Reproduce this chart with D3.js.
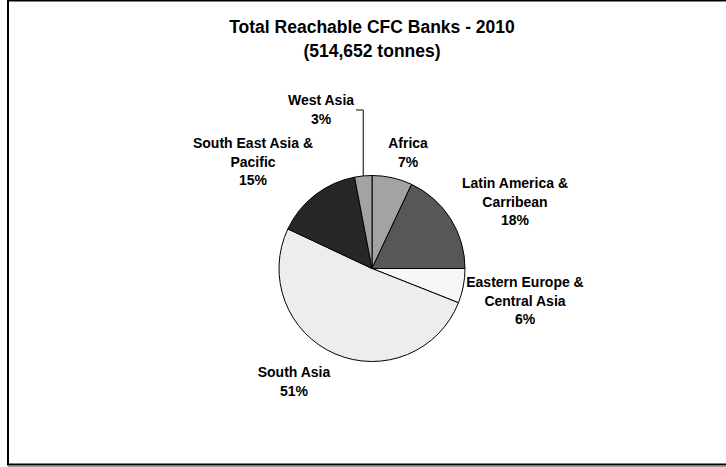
<!DOCTYPE html>
<html>
<head>
<meta charset="utf-8">
<script src="https://cdn.jsdelivr.net/npm/d3@7"></script>
<style>
  html, body { margin: 0; padding: 0; background: #fff; }
  svg { display: block; }
  text { font-family: "Liberation Sans", Arial, sans-serif; font-weight: bold; fill: #000; }
</style>
</head>
<body>
<svg id="chart" width="726" height="467"></svg>
<script>
// Regions and their share of reachable CFC banks (%), clockwise from 12 o'clock
const regions = ["Africa", "Latin America & Carribean", "Eastern Europe & Central Asia",
                 "South Asia", "South East Asia & Pacific", "West Asia"];
const shares = [7, 18, 6, 51, 15, 3];
const fills = ["#a3a3a3", "#575757", "#f7f7f7", "#ededed", "#272727", "#a3a3a3"];

const titleLines = ["Total Reachable CFC Banks - 2010", "(514,652 tonnes)"];

// How each region's label is wrapped and where its block sits
const labelLayout = {
  "Africa":                        { lines: ["Africa"],                       x: 408, y: 148 },
  "Latin America & Carribean":     { lines: ["Latin America &", "Carribean"], x: 515, y: 188 },
  "Eastern Europe & Central Asia": { lines: ["Eastern Europe &", "Central Asia"], x: 525, y: 287 },
  "South Asia":                    { lines: ["South Asia"],                   x: 294, y: 377 },
  "South East Asia & Pacific":     { lines: ["South East Asia &", "Pacific"], x: 253, y: 148 },
  "West Asia":                     { lines: ["West Asia"],                    x: 321, y: 105, leader: true }
};

const W = 726, H = 467;
const cx = 372, cy = 268.5, R = 93;
const lineH = 18.7;

const svg = d3.select("#chart");

// Chart area frame (extends past the right edge)
svg.append("rect")
  .attr("x", 8).attr("y", 0.5)
  .attr("width", 740).attr("height", 464)
  .attr("fill", "#fff").attr("stroke", "#000").attr("stroke-width", 2);
svg.append("line")
  .attr("x1", 8).attr("x2", W).attr("y1", 466.5).attr("y2", 466.5)
  .attr("stroke", "#9a9a9a").attr("stroke-width", 1);

// Title
svg.append("g").selectAll("text").data(titleLines).join("text")
  .attr("x", 372)
  .attr("y", (d, i) => 33 + i * 24)
  .attr("text-anchor", "middle")
  .style("font-size", "17.5px")
  .text(d => d);

// Pie
const data = regions.map((r, i) => ({ region: r, value: shares[i], fill: fills[i] }));
const pie = d3.pie().sort(null).value(d => d.value).startAngle(0).endAngle(2 * Math.PI);
const arcs = pie(data);
const arc = d3.arc().innerRadius(0).outerRadius(R);

const gPie = svg.append("g").attr("transform", `translate(${cx},${cy})`);
gPie.selectAll("path").data(arcs).join("path")
  .attr("d", arc)
  .attr("fill", d => d.data.fill)
  .attr("stroke", "#000")
  .attr("stroke-width", 1)
  .attr("stroke-linejoin", "round");

// Labels
const gLab = svg.append("g");
arcs.forEach(a => {
  const lay = labelLayout[a.data.region];
  const lines = lay.lines.concat([a.data.value + "%"]);
  const t = gLab.append("text")
    .attr("text-anchor", "middle")
    .style("font-size", "14px");
  lines.forEach((ln, i) => {
    t.append("tspan").attr("x", lay.x).attr("y", lay.y + i * lineH).text(ln);
  });
  if (lay.leader) {
    // Leader from the label to the slice edge at its mid-angle
    const mid = (a.startAngle + a.endAngle) / 2;
    const px = cx + R * Math.sin(mid), py = cy - R * Math.cos(mid);
    const ly = lay.y + 5;
    const lx0 = lay.x + 35;
    gLab.append("polyline")
      .attr("points", `${lx0},${ly} ${px},${ly} ${px},${py}`)
      .attr("fill", "none").attr("stroke", "#000").attr("stroke-width", 1);
  }
});
</script>
</body>
</html>
